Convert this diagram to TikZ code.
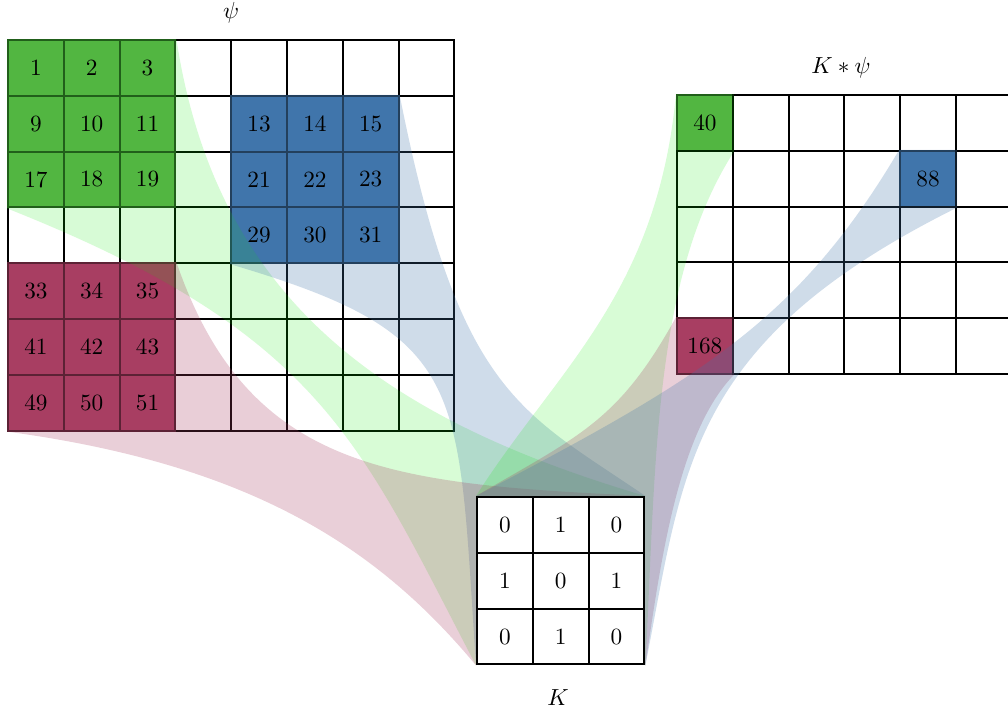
\documentclass[tikz,border=0pt]{standalone}
\definecolor{cgreen}{RGB}{96,172,78}
\definecolor{cblue}{RGB}{64,117,171}
\definecolor{cred}{RGB}{168,62,98}
\definecolor{fgreen}{RGB}{10,235,0}
\pgfdeclarelayer{fun}
\pgfdeclarelayer{top}
\pgfsetlayers{main,fun,top}
\tikzset{
  wcell/.style={draw=black, line width=0.85pt, minimum size=24pt, inner sep=0pt, fill=white},
  gcell/.style={wcell, fill=cgreen, draw=cgreen!40!black},
  bcell/.style={wcell, fill=cblue, draw=cblue!40!black},
  rcell/.style={wcell, fill=cred, draw=cred!40!black},
  gfun/.style={fill=fgreen, fill opacity=0.16},
  bfun/.style={fill=cblue, fill opacity=0.25},
  rfun/.style={fill=cred, fill opacity=0.25},
  lbl/.style={inner sep=0pt},
  num/.style={inner sep=0pt, text=black},
}
\newcommand\cellkind[2]{%
  \def\mykind{w}%
  \ifnum#1<4 \ifnum#2<4 \def\mykind{g}\fi\fi
  \ifnum#1>1 \ifnum#1<5 \ifnum#2>4 \ifnum#2<8 \def\mykind{b}\fi\fi\fi\fi
  \ifnum#1>4 \ifnum#2<4 \def\mykind{r}\fi\fi
}
\begin{document}
\begin{tikzpicture}[x=0.43pt,y=-0.43pt]
\useasboundingbox (0,0) rectangle (1008,713);
% input grid psi: white cells
\foreach \r in {1,...,7}{\foreach \c in {1,...,8}{
  \cellkind{\r}{\c}
  \if w\mykind
    \node[wcell] (p-\r-\c) at ({8+(\c-0.5)*55.8},{40+(\r-0.5)*55.8}) {};
  \fi
}}
% coloured patches (numbers on the top layer)
\foreach \r in {1,...,7}{\foreach \c in {1,...,8}{
  \cellkind{\r}{\c}
  \pgfmathtruncatemacro{\v}{8*(\r-1)+\c}
  \if g\mykind \node[gcell] (p-\r-\c) at ({8+(\c-0.5)*55.8},{40+(\r-0.5)*55.8}) {};\fi
  \if b\mykind \node[bcell] (p-\r-\c) at ({8+(\c-0.5)*55.8},{40+(\r-0.5)*55.8}) {};\fi
  \if r\mykind \node[rcell] (p-\r-\c) at ({8+(\c-0.5)*55.8},{40+(\r-0.5)*55.8}) {};\fi
  \if w\mykind\else
    \begin{pgfonlayer}{top}
      \node[num] (pt-\r-\c) at (p-\r-\c) {\v};
    \end{pgfonlayer}
  \fi
}}
% output grid
\foreach \r in {1,...,5}{\foreach \c in {1,...,6}{
  \def\mykind{w}\def\mytext{}
  \ifnum\r=1 \ifnum\c=1 \def\mykind{g}\def\mytext{40}\fi\fi
  \ifnum\r=2 \ifnum\c=5 \def\mykind{b}\def\mytext{88}\fi\fi
  \ifnum\r=5 \ifnum\c=1 \def\mykind{r}\def\mytext{168}\fi\fi
  \if w\mykind \node[wcell] (o-\r-\c) at ({677+(\c-0.5)*55.8},{95+(\r-0.5)*55.8}) {};\fi
  \if g\mykind \node[gcell] (o-\r-\c) at ({677+(\c-0.5)*55.8},{95+(\r-0.5)*55.8}) {};\fi
  \if b\mykind \node[bcell] (o-\r-\c) at ({677+(\c-0.5)*55.8},{95+(\r-0.5)*55.8}) {};\fi
  \if r\mykind \node[rcell] (o-\r-\c) at ({677+(\c-0.5)*55.8},{95+(\r-0.5)*55.8}) {};\fi
  \if w\mykind\else
    \begin{pgfonlayer}{top}
      \node[num] (ot-\r-\c) at (o-\r-\c) {\mytext};
    \end{pgfonlayer}
  \fi
}}
% kernel (on top)
\begin{pgfonlayer}{top}
\foreach \r/\c/\t in {1/1/0,1/2/1,1/3/0,2/1/1,2/2/0,2/3/1,3/1/0,3/2/1,3/3/0}{
  \node[wcell] (k-\r-\c) at ({477+(\c-0.5)*55.8},{497+(\r-0.5)*55.8}) {\t};
}
\end{pgfonlayer}
% funnels
\begin{pgfonlayer}{fun}
\path[gfun] (p-1-3.north east) .. controls (216,300) and (384,419) .. (k-1-3.north east)
  -- (k-3-1.south west) .. controls (360,444) and (324,334) .. (p-3-1.south west)
  -- (p-1-1.north west) -- cycle;
\path[bfun] (p-2-7.north east) .. controls (459,395) and (521,411) .. (k-1-3.north east)
  -- (k-3-1.south west) .. controls (457,384) and (471,335) .. (p-4-5.south west)
  -- (p-2-5.north west) -- cycle;
\path[rfun] (p-5-3.north east) .. controls (249,473) and (394,484) .. (k-1-3.north east)
  -- (k-3-1.south west) .. controls (380,550) and (255,465) .. (p-7-1.south west)
  -- (p-5-1.north west) -- cycle;
\path[gfun] (o-1-1.north west) .. controls (657,295) and (556,370) .. (k-1-1.north west)
  -- (k-3-3.south east) .. controls (656,464) and (653,278) .. (o-1-1.south east)
  -- (o-1-1.north east) -- cycle;
\path[rfun] (o-5-1.north west) .. controls (618,422) and (580,435) .. (k-1-1.north west)
  -- (k-3-3.south east) .. controls (660,565) and (678,432) .. (o-5-1.south east)
  -- (o-5-1.north east) -- cycle;
\path[bfun] (o-2-5.north west) .. controls (797,323) and (697,380) .. (k-1-1.north west)
  -- (k-3-3.south east) .. controls (684,468) and (687,342) .. (o-2-5.south east)
  -- (o-2-5.north east) -- cycle;
\end{pgfonlayer}
% labels
\node[lbl] (psilbl) at (231,13) {$\psi$};
\node[lbl] (kpsilbl) at (841,68) {$K*\psi$};
\node[lbl] (klbl) at (558,698) {$K$};
\end{tikzpicture}
\end{document}
